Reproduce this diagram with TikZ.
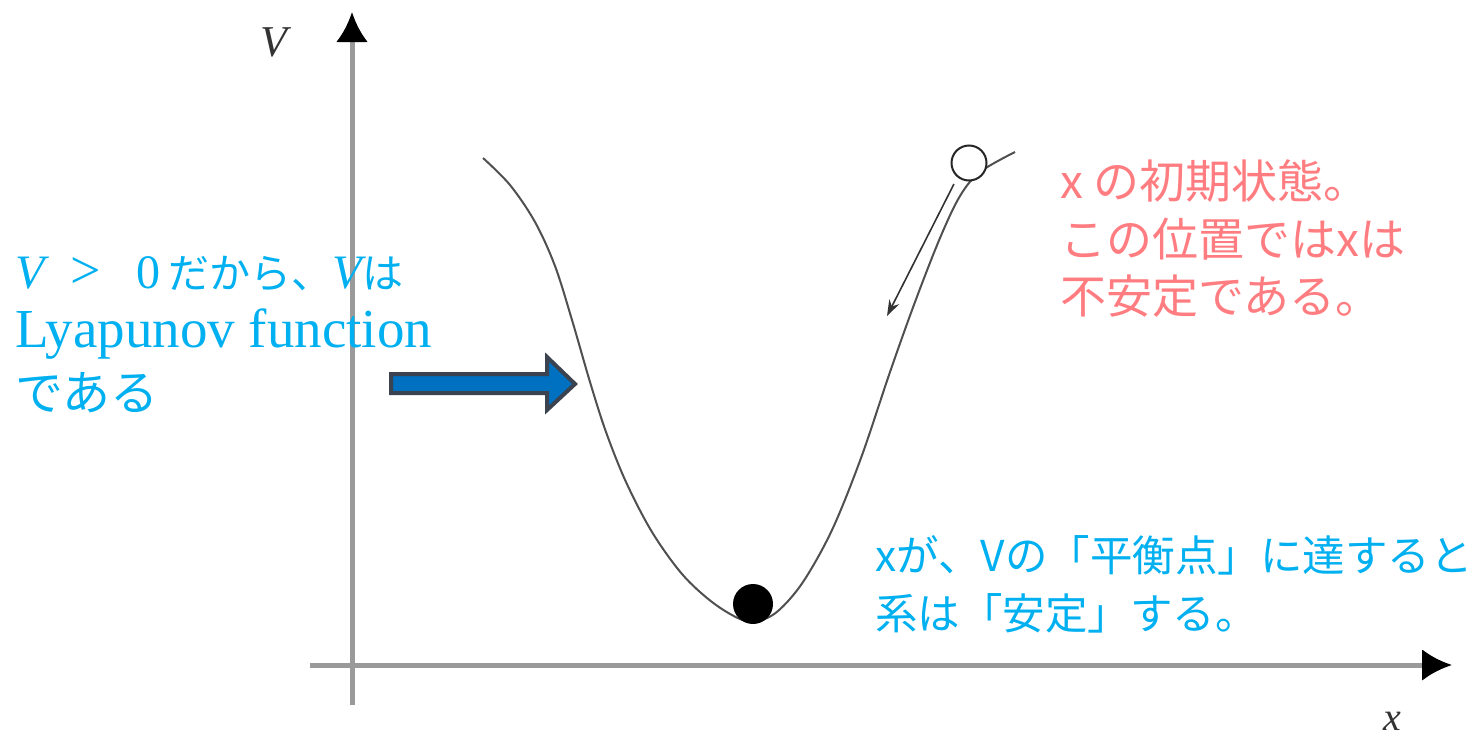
\documentclass[tikz,border=0pt]{standalone}
\usepackage{fontspec}
\usetikzlibrary{arrows.meta}
\newfontfamily\jp{Noto Sans CJK JP}
\newfontfamily\serifA{Liberation Serif}
\definecolor{cyanT}{HTML}{00B0F0}
\definecolor{redT}{HTML}{FF7C80}
\definecolor{arrFill}{HTML}{0070C0}
\definecolor{arrEdge}{HTML}{3B4350}
\definecolor{axisG}{HTML}{9A9A9A}
\definecolor{curveG}{HTML}{505050}
\tikzset{
  axisline/.style={draw=axisG, line width=5pt, -{Latex[length=30pt,width=32pt,color=black]}},
  curveline/.style={draw=curveG, line width=2pt},
  jptext/.style={anchor=base west, inner sep=0pt, font=\jp\fontsize{42.5}{52}\selectfont},
  redtext/.style={jptext, text=redT, font=\jp\fontsize{46}{56}\selectfont},
  bluetext/.style={jptext, text=cyanT},
}
\begin{document}
\begin{tikzpicture}[x=1pt,y=-1pt]
\useasboundingbox (0,0) rectangle (1474,744);
\fill[white] (0,0) rectangle (1474,744);
% axes
\coordinate (ybot) at (352,705);
\coordinate (ytop) at (352,12);
\coordinate (xleft) at (310,665);
\coordinate (xright) at (1452,665);
\draw[axisline] (ybot) -- (ytop);
\draw[axisline] (xleft) -- (xright);
\node[font=\serifA\itshape\fontsize{44}{50}\selectfont, text=black!80] (vlab) at (274,42) {V};
\node[font=\serifA\itshape\fontsize{40}{46}\selectfont, text=black!80, anchor=base, inner sep=0pt] (xlab) at (1392,730) {x};
% potential curve
\draw[curveline] plot[smooth, tension=0.55] coordinates {
 (483,158) (510,185) (535,222) (555,266) (572,320) (590,382) (606,432)
 (626,482) (652,532) (682,574) (712,602) (740,619) (758,621) (778,611)
 (803,582) (832,530) (861,458) (890,372) (915,302) (940,238) (960,196)
 (980,172) (1015,152)};
% initial state (open circle) and arrow
\node[circle, draw=black!85, line width=2pt, fill=white, minimum size=35pt, inner sep=0pt] (init) at (969,163) {};
\coordinate (arrend) at (887,316);
\draw[black!80, line width=1.6pt, -{Stealth[length=16pt,width=11pt]}] (init.south west) ++(-2,8) coordinate (arrstart) -- (arrend);
% equilibrium ball
\node[circle, fill=black, minimum size=40pt, inner sep=0pt] (ball) at (753,604) {};
% block arrow
\draw[fill=arrFill, draw=arrEdge, line width=4pt, line join=miter]
 (391,374) -- (547,374) -- (547,357) -- (575,384) -- (547,410) -- (547,393) -- (391,393) -- cycle;
% left text
\node[anchor=base west, inner sep=0pt, text=cyanT] (l1) at (15,288)
 {{\serifA\itshape\fontsize{48}{56}\selectfont V}\hspace{26pt}{\serifA\fontsize{54}{56}\selectfont >}\hspace{36pt}{\serifA\fontsize{48}{56}\selectfont 0}\hspace{8pt}{\jp\fontsize{41}{52}\selectfont だから、}{\serifA\itshape\fontsize{48}{56}\selectfont V}{\jp\fontsize{41}{52}\selectfont は}};
\node[anchor=base west, inner sep=0pt, text=cyanT, font=\serifA\fontsize{55}{60}\selectfont] (l2) at (15,347) {Lyapunov function};
\node[jptext, text=cyanT, font=\jp\fontsize{48}{56}\selectfont] (l3) at (15,410) {である};
% red text
\node[redtext] (r1) at (1060,198) {x の初期状態。};
\node[redtext] (r2) at (1060,256) {この位置ではxは};
\node[redtext] (r3) at (1060,313) {不安定である。};
% blue bottom text with white backing
\fill[white] (858,522) rectangle (1474,650);
\node[bluetext] (b1) at (875,571) {xが、Vの「平衡点」に達すると};
\node[bluetext] (b2) at (875,629) {系は「安定」する。};
\end{tikzpicture}
\end{document}
